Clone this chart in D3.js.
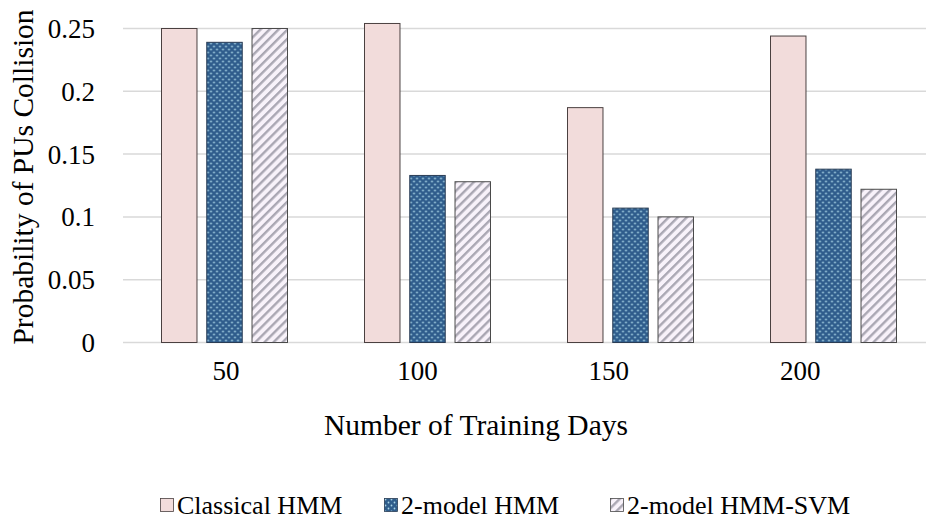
<!DOCTYPE html>
<html>
<head>
<meta charset="utf-8">
<script src="https://cdn.jsdelivr.net/npm/d3@7"></script>
<style>
  html, body { margin: 0; padding: 0; background: #fff; }
  svg { display: block; }
  text { font-family: "Liberation Serif", "Times New Roman", serif; fill: #000; }
</style>
</head>
<body>
<svg id="chart" width="926" height="530"></svg>
<script>
// ---- data ----
const categories = ["50", "100", "150", "200"];
const seriesNames = ["Classical HMM", "2-model HMM", "2-model HMM-SVM"];
const classicalHMM = [0.250, 0.254, 0.187, 0.244];
const twoModelHMM = [0.239, 0.133, 0.107, 0.138];
const twoModelHMMSVM = [0.250, 0.128, 0.100, 0.122];
const yTicks = [0, 0.05, 0.1, 0.15, 0.2, 0.25];
const yTickLabels = ["0", "0.05", "0.1", "0.15", "0.2", "0.25"];
const xTitle = "Number of Training Days";
const yTitle = "Probability of PUs Collision";

const seriesValues = [classicalHMM, twoModelHMM, twoModelHMMSVM];

const svg = d3.select("#chart");
const defs = svg.append("defs");

// dotted pattern
const dots = defs.append("pattern").attr("id", "dots")
  .attr("patternUnits", "userSpaceOnUse").attr("width", 6).attr("height", 6);
dots.append("rect").attr("width", 6).attr("height", 6).attr("fill", "#2f5d8c");
dots.append("circle").attr("cx", 1.5).attr("cy", 1.5).attr("r", 0.9).attr("fill", "#a8d4e6");
dots.append("circle").attr("cx", 4.5).attr("cy", 4.5).attr("r", 0.9).attr("fill", "#a8d4e6");

// hatch pattern
const hatch = defs.append("pattern").attr("id", "hatch")
  .attr("patternUnits", "userSpaceOnUse").attr("width", 6.4).attr("height", 6.4)
  .attr("patternTransform", "rotate(45)");
hatch.append("rect").attr("width", 6.4).attr("height", 6.4).attr("fill", "#f8f2fa");
hatch.append("rect").attr("x", 0).attr("width", 2.4).attr("height", 6.4).attr("fill", "#aaa7b3");

const fills = ["#f2dcdb", "url(#dots)", "url(#hatch)"];
const strokes = ["#4a4040", "#2a3d55", "#4a4a4a"];

// scales
const plotLeft = 123, plotRight = 935, plotTop = 28.5, plotBottom = 342.5;
const y = d3.scaleLinear().domain([0, 0.25]).range([plotBottom, plotTop]);
const x0 = d3.scaleBand().domain(categories).range([plotLeft, plotRight]).padding(0);
const x1 = d3.scaleBand().domain(seriesNames).range([0, 126]).paddingInner(0.216).paddingOuter(0);
const xLabel = d3.scaleBand().domain(categories).range([130.3, 896]).padding(0);

// gridlines
svg.append("g").selectAll("line").data(yTicks).join("line")
  .attr("x1", plotLeft).attr("x2", 926)
  .attr("y1", d => y(d)).attr("y2", d => y(d))
  .attr("stroke", "#d9d9d9").attr("stroke-width", 1.5);

// y tick labels
svg.append("g").selectAll("text").data(yTicks).join("text")
  .attr("x", 95).attr("y", d => y(d)).attr("dy", "0.35em")
  .attr("text-anchor", "end").attr("font-size", 27)
  .text((d, i) => yTickLabels[i]);

// bars
const groups = svg.append("g").selectAll("g").data(categories).join("g")
  .attr("transform", c => `translate(${x0(c) + x0.bandwidth() / 2 - 63},0)`);
groups.selectAll("rect").data((c, ci) => seriesNames.map((s, si) => ({ s, si, v: seriesValues[si][ci] })))
  .join("rect")
  .attr("x", d => x1(d.s)).attr("width", x1.bandwidth())
  .attr("y", d => y(d.v)).attr("height", d => y(0) - y(d.v))
  .attr("fill", d => fills[d.si]).attr("stroke", d => strokes[d.si]).attr("stroke-width", 1);

// x tick labels
svg.append("g").selectAll("text").data(categories).join("text")
  .attr("x", c => xLabel(c) + xLabel.bandwidth() / 2).attr("y", 380)
  .attr("text-anchor", "middle").attr("font-size", 27)
  .text(c => c);

// axis titles
svg.append("text").attr("x", 476).attr("y", 435).attr("text-anchor", "middle")
  .attr("font-size", 29.5).text(xTitle);
svg.append("text").attr("transform", "translate(33,177) rotate(-90)")
  .attr("text-anchor", "middle").attr("font-size", 29.5).text(yTitle);

// legend
const legendX = [160, 384, 610];
const leg = svg.append("g").selectAll("g").data(seriesNames).join("g")
  .attr("transform", (d, i) => `translate(${legendX[i]},0)`);
leg.append("rect").attr("x", 0.5).attr("y", 498.5).attr("width", 13).attr("height", 13)
  .attr("fill", (d, i) => fills[i]).attr("stroke", (d, i) => strokes[i]).attr("stroke-width", 0.8);
leg.append("text").attr("x", 17).attr("y", 514).attr("font-size", 26).text(d => d);
</script>
</body>
</html>
